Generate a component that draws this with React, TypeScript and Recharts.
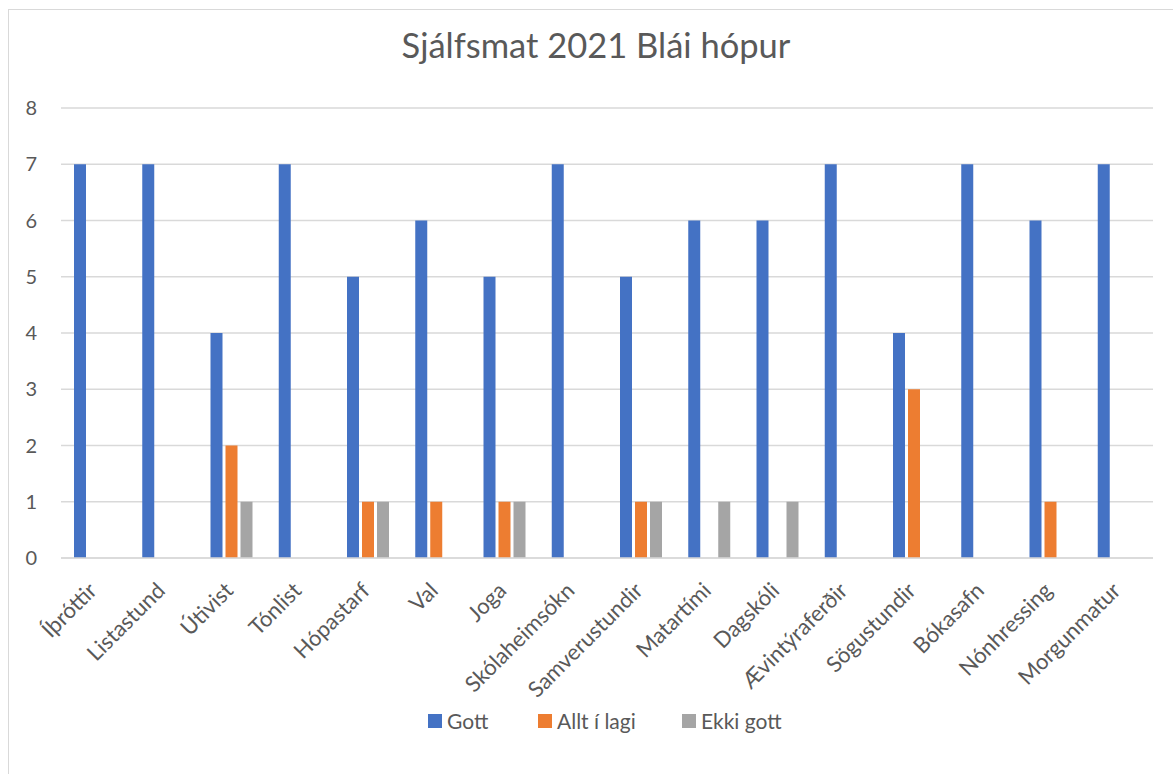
import { BarChart, Bar, XAxis, YAxis, CartesianGrid, Legend } from 'recharts';

const categories = [
  'Íþróttir', 'Listastund', 'Útivist', 'Tónlist', 'Hópastarf', 'Val', 'Joga', 'Skólaheimsókn',
  'Samverustundir', 'Matartími', 'Dagskóli', 'Ævintýraferðir', 'Sögustundir', 'Bókasafn', 'Nónhressing', 'Morgunmatur',
];
const gott = [7, 7, 4, 7, 5, 6, 5, 7, 5, 6, 6, 7, 4, 7, 6, 7];
const alltILagi = [0, 0, 2, 0, 1, 1, 1, 0, 1, 0, 0, 0, 3, 0, 1, 0];
const ekkiGott = [0, 0, 1, 0, 1, 0, 1, 0, 1, 1, 1, 0, 0, 0, 0, 0];
const yTicks = [0, 1, 2, 3, 4, 5, 6, 7, 8];

const series = [
  { key: 'Gott', color: '#4472C4', values: gott },
  { key: 'Allt í lagi', color: '#ED7D31', values: alltILagi },
  { key: 'Ekki gott', color: '#A5A5A5', values: ekkiGott },
];

const data = categories.map((name, i) => {
  const row: any = { name };
  series.forEach((s) => { row[s.key] = s.values[i]; });
  return row;
});

const FONT = 'Lato, "Noto Sans", sans-serif';
const TEXT = '#595959';

const CategoryTick = ({ x, y, payload }: any) => (
  <g transform={`translate(${x + 3},${y + 26})`}>
    <text x={0} y={0} textAnchor="end" transform="rotate(-45)" fill={TEXT} fontSize={22} fontFamily={FONT}>
      {payload.value}
    </text>
  </g>
);

// fixed slot widths so the legend keys land where the reference has them
const legendSlots = [110, 144, 120];

const LegendContent = () => (
  <div style={{ display: 'flex', paddingLeft: 428, fontFamily: FONT, fontSize: 21, color: TEXT }}>
    {series.map((s, i) => (
      <div key={s.key} style={{ display: 'flex', alignItems: 'center', gap: 5, width: legendSlots[i] }}>
        <span style={{ width: 14, height: 14, background: s.color, display: 'inline-block' }} />
        <span>{s.key}</span>
      </div>
    ))}
  </div>
);

export default function App() {
  return (
    <div style={{ position: 'absolute', left: 0, top: 0, width: 1173, height: 774, background: '#fff', overflow: 'hidden' }}>
      <div style={{ position: 'absolute', left: 8, top: 9, width: 1200, height: 800, border: '1.5px solid #d9d9d9' }} />
      <BarChart
        width={1173}
        height={774}
        data={data}
        margin={{ top: 108, right: 20, left: 0, bottom: 96 }}
        barSize={12}
        barGap={3}
        style={{ position: 'absolute', left: 0, top: 0 }}
      >
        <text x={596} y={58} textAnchor="middle" fill={TEXT} fontSize={34.5} fontFamily={FONT}>
          Sjálfsmat 2021 Blái hópur
        </text>
        <CartesianGrid vertical={false} stroke="#d9d9d9" strokeWidth={1.3} />
        <XAxis
          dataKey="name"
          interval={0}
          height={120}
          tick={<CategoryTick />}
          tickLine={false}
          axisLine={{ stroke: '#d9d9d9', strokeWidth: 1.5 }}
        />
        <YAxis
          domain={[0, 8]}
          ticks={yTicks}
          width={61}
          tickLine={false}
          axisLine={false}
          tickSize={0}
          tickMargin={24}
          tick={{ fill: TEXT, fontSize: 20, fontFamily: FONT }}
        />
        <Legend verticalAlign="middle" wrapperStyle={{ top: 708, left: 0, width: 1173 }} content={<LegendContent />} />
        {series.map((s) => (
          <Bar key={s.key} dataKey={s.key} fill={s.color} isAnimationActive={false} />
        ))}
      </BarChart>
    </div>
  );
}
